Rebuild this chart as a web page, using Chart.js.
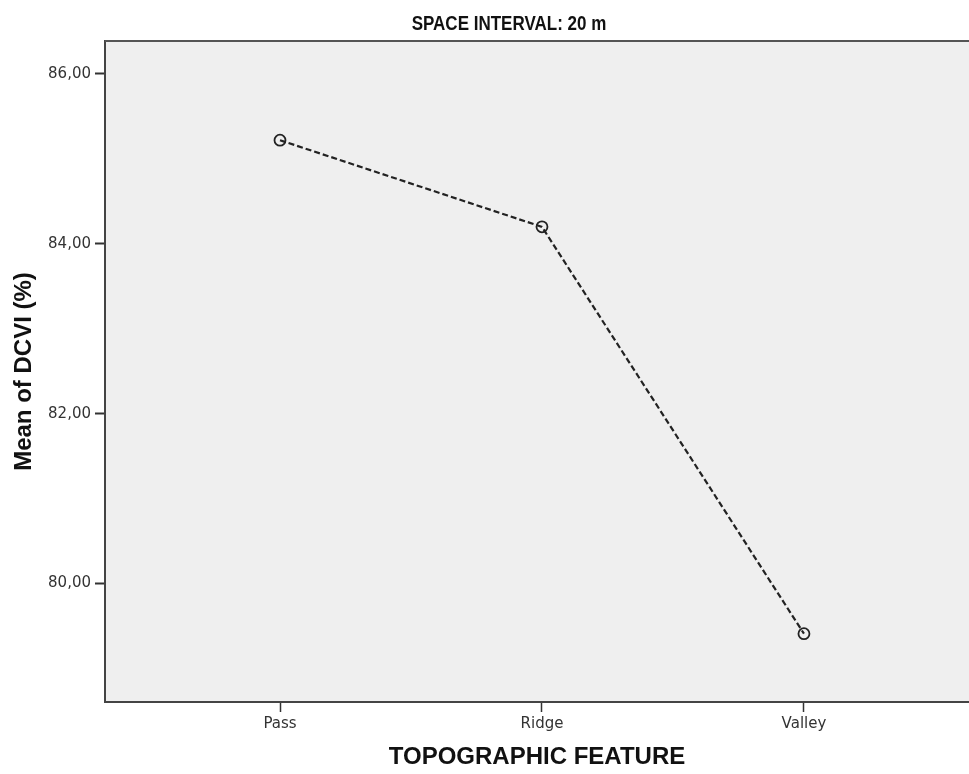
<!DOCTYPE html>
<html>
<head>
<meta charset="utf-8">
<script src="https://cdn.jsdelivr.net/npm/chart.js@4/dist/chart.umd.min.js"></script>
<style>
  html, body { margin: 0; padding: 0; background: #fff; overflow: hidden; }
  #wrap { width: 969px; height: 774px; }
  canvas { display: block; }
</style>
</head>
<body>
<div id="wrap"><canvas id="meanChart" width="969" height="774"></canvas></div>
<script>
// values
const features = ['Pass', 'Ridge', 'Valley'];
const meanDCVI = [85.22, 84.20, 79.41];
const yTicks = [80, 82, 84, 86];

const chartTitle = 'SPACE INTERVAL: 20 m';

// grey plot background + top frame line + title above
const plotFrame = {
    id: 'plotFrame',
    beforeDraw(chart) {
        const { ctx, chartArea: a } = chart;
        ctx.save();
        ctx.fillStyle = '#efefef';
        ctx.fillRect(a.left, a.top, a.right - a.left, a.bottom - a.top);
        ctx.restore();
    },
    afterDraw(chart) {
        const { ctx, chartArea: a } = chart;
        ctx.save();
        ctx.strokeStyle = '#555';
        ctx.lineWidth = 2;
        ctx.beginPath();
        ctx.moveTo(a.left, a.top);
        ctx.lineTo(a.right, a.top);
        ctx.stroke();
        // narrow bold title, squeezed horizontally
        ctx.fillStyle = '#111';
        ctx.font = 'bold 21px "Liberation Sans", Arial, sans-serif';
        ctx.textAlign = 'center';
        ctx.textBaseline = 'alphabetic';
        ctx.translate(509, 30);
        ctx.scale(0.81, 1);
        ctx.fillText(chartTitle, 0, 0);
        ctx.restore();
    }
};

const ctx = document.getElementById('meanChart').getContext('2d');
const meanChart = new Chart(ctx, {
    type: 'line',
    data: {
        datasets: [{
            label: 'Mean of DCVI (%)',
            data: meanDCVI.map((v, i) => ({ x: i, y: v })),
            borderColor: '#222',
            borderWidth: 2.2,
            borderDash: [6, 3],
            pointRadius: 5.5,
            pointBorderWidth: 1.8,
            pointBorderColor: '#222',
            pointBackgroundColor: 'rgba(0,0,0,0)',
            tension: 0,
            clip: false
        }]
    },
    options: {
        responsive: false,
        animation: false,
        layout: { autoPadding: false, padding: { top: 41, left: 0, right: 0, bottom: 0 } },
        plugins: {
            legend: { display: false },
            tooltip: { enabled: false },
            title: { display: false }
        },
        scales: {
            x: {
                type: 'linear',
                min: -0.668,
                max: 2.63,
                afterBuildTicks(axis) {
                    axis.ticks = features.map((f, i) => ({ value: i }));
                },
                afterFit(axis) {
                    axis.height = 72;
                    axis.paddingLeft = 0;
                    axis.paddingRight = 0;
                },
                ticks: {
                    autoSkip: false,
                    maxRotation: 0,
                    padding: 3,
                    color: '#333',
                    font: { family: '"DejaVu Sans", sans-serif', size: 15 },
                    callback: (v) => features[v]
                },
                grid: {
                    drawOnChartArea: false,
                    drawTicks: true,
                    tickLength: 10,
                    tickWidth: 1.5,
                    tickColor: '#333'
                },
                border: { display: true, color: '#444', width: 2 },
                title: {
                    display: true,
                    text: 'TOPOGRAPHIC FEATURE',
                    color: '#111',
                    font: { family: '"Liberation Sans", Arial, sans-serif', size: 24, weight: 'bold' },
                    padding: { top: 0, bottom: 2 }
                }
            },
            y: {
                min: 78.606,
                max: 86.388,
                afterBuildTicks(axis) {
                    axis.ticks = yTicks.map(v => ({ value: v }));
                },
                afterFit(axis) {
                    axis.width = 105;
                    axis.paddingTop = 0;
                    axis.paddingBottom = 0;
                },
                ticks: {
                    padding: 4,
                    color: '#333',
                    font: { family: '"DejaVu Sans", sans-serif', size: 15 },
                    callback: (v) => v.toFixed(2).replace('.', ',')
                },
                grid: {
                    drawOnChartArea: false,
                    drawTicks: true,
                    tickLength: 10,
                    tickWidth: 2,
                    tickColor: '#333'
                },
                border: { display: true, color: '#444', width: 2 },
                title: {
                    display: true,
                    text: 'Mean of DCVI (%)',
                    color: '#111',
                    font: { family: '"Liberation Sans", Arial, sans-serif', size: 24, weight: 'bold' },
                    padding: { top: 10, bottom: 0 }
                }
            }
        }
    },
    plugins: [plotFrame]
});
</script>
</body>
</html>
